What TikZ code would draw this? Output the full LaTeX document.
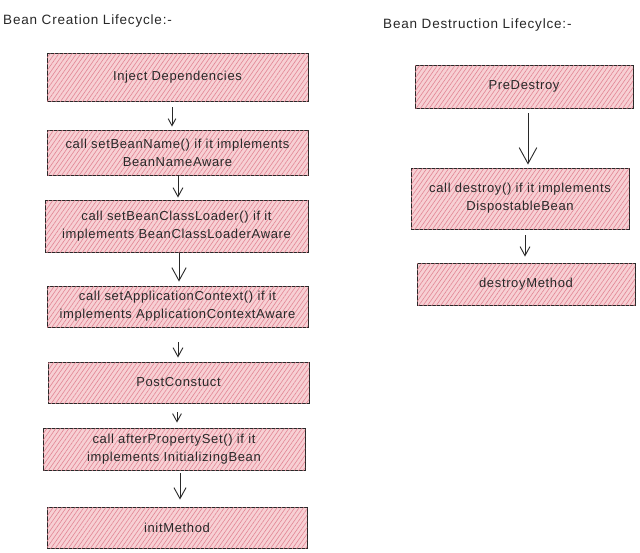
\documentclass[tikz,border=0pt]{standalone}
\usepackage{fontspec}
\setmainfont{Liberation Sans}[LetterSpace=5]
\usetikzlibrary{arrows.meta,patterns.meta}
\definecolor{pinkbase}{RGB}{247,208,212}
\definecolor{pinkline}{RGB}{226,134,148}
\definecolor{inkc}{RGB}{40,40,40}
\tikzset{
  stepbox/.style={draw=inkc, line width=0.9pt, fill=pinkbase,
    postaction={pattern={Lines[angle=55,distance=3.6pt,line width=0.6pt]}, pattern color=pinkline},
    minimum width=#1, inner sep=0pt, align=center, font=\fontsize{13}{18}\selectfont, text=inkc},
  stepbox/.default=261pt,
  ttl/.style={anchor=west, font=\fontsize{13.5}{16}\selectfont\addfontfeature{LetterSpace=6}, text=inkc, inner sep=0pt},
  arr/.style={draw=inkc, line width=0.9pt, -{Straight Barb[length=#1, width=1.1*#1, line width=0.9pt]}},
  arr/.default=7pt
}
\begin{document}
\begin{tikzpicture}[x=1pt,y=-1pt]
\useasboundingbox (0,0) rectangle (640,552);
\fill[white] (0,0) rectangle (640,552);
% titles
\node[ttl] (t1) at (3,21) {Bean Creation Lifecycle:-};
\node[ttl] (t2) at (383,25) {Bean Destruction Lifecylce:-};
% left column
\node[stepbox, minimum height=48pt] (b1) at (177.5,77) {Inject Dependencies};
\node[stepbox, minimum height=45pt] (b2) at (177.5,152.5) {call setBeanName() if it implements\\BeanNameAware};
\node[stepbox=263pt, minimum height=52pt] (b3) at (176.5,226) {call setBeanClassLoader() if it\\implements BeanClassLoaderAware};
\node[stepbox, minimum height=41pt] (b4) at (177.5,306.5) {call setApplicationContext() if it\\implements ApplicationContextAware};
\node[stepbox, minimum height=41pt] (b5) at (178.5,382.5) {PostConstuct};
\node[stepbox=262pt, minimum height=42pt] (b6) at (174,449) {call afterPropertySet() if it\\implements InitializingBean};
\node[stepbox=260pt, minimum height=41pt] (b7) at (177,527.5) {initMethod};
% right column
\node[stepbox=218pt, minimum height=43pt] (r1) at (524,86.5) {PreDestroy};
\node[stepbox=218pt, minimum height=61pt] (r2) at (520,198.5) {call destroy() if it implements\\DispostableBean};
\node[stepbox=218pt, minimum height=42pt] (r3) at (526,284) {destroyMethod};
% connectors
\draw[arr=7pt] ([xshift=-5.5pt,yshift=-6pt]b1.south) -- ([xshift=-5.5pt,yshift=3pt]b2.north);
\draw[arr=9pt] ([xshift=0.5pt,yshift=-1pt]b2.south) -- ([xshift=1.5pt,yshift=2pt]b3.north);
\draw[arr=13pt] ([xshift=2.5pt,yshift=-1pt]b3.south) -- ([xshift=1.5pt,yshift=4pt]b4.north);
\draw[arr=9pt] ([xshift=0.5pt,yshift=-15pt]b4.south) -- ([xshift=-0.5pt,yshift=4pt]b5.north);
\draw[arr=8pt] ([xshift=-1.5pt,yshift=-9pt]b5.south) -- ([xshift=3pt,yshift=5pt]b6.north);
\draw[arr=11pt] ([xshift=6pt,yshift=-3pt]b6.south) -- ([xshift=3pt,yshift=7pt]b7.north);
\draw[arr=16pt] ([xshift=4pt,yshift=-5pt]r1.south) -- ([xshift=8pt,yshift=3pt]r2.north);
\draw[arr=9pt] ([xshift=5pt,yshift=-6pt]r2.south) -- ([xshift=-1pt,yshift=6pt]r3.north);
\end{tikzpicture}
\end{document}
